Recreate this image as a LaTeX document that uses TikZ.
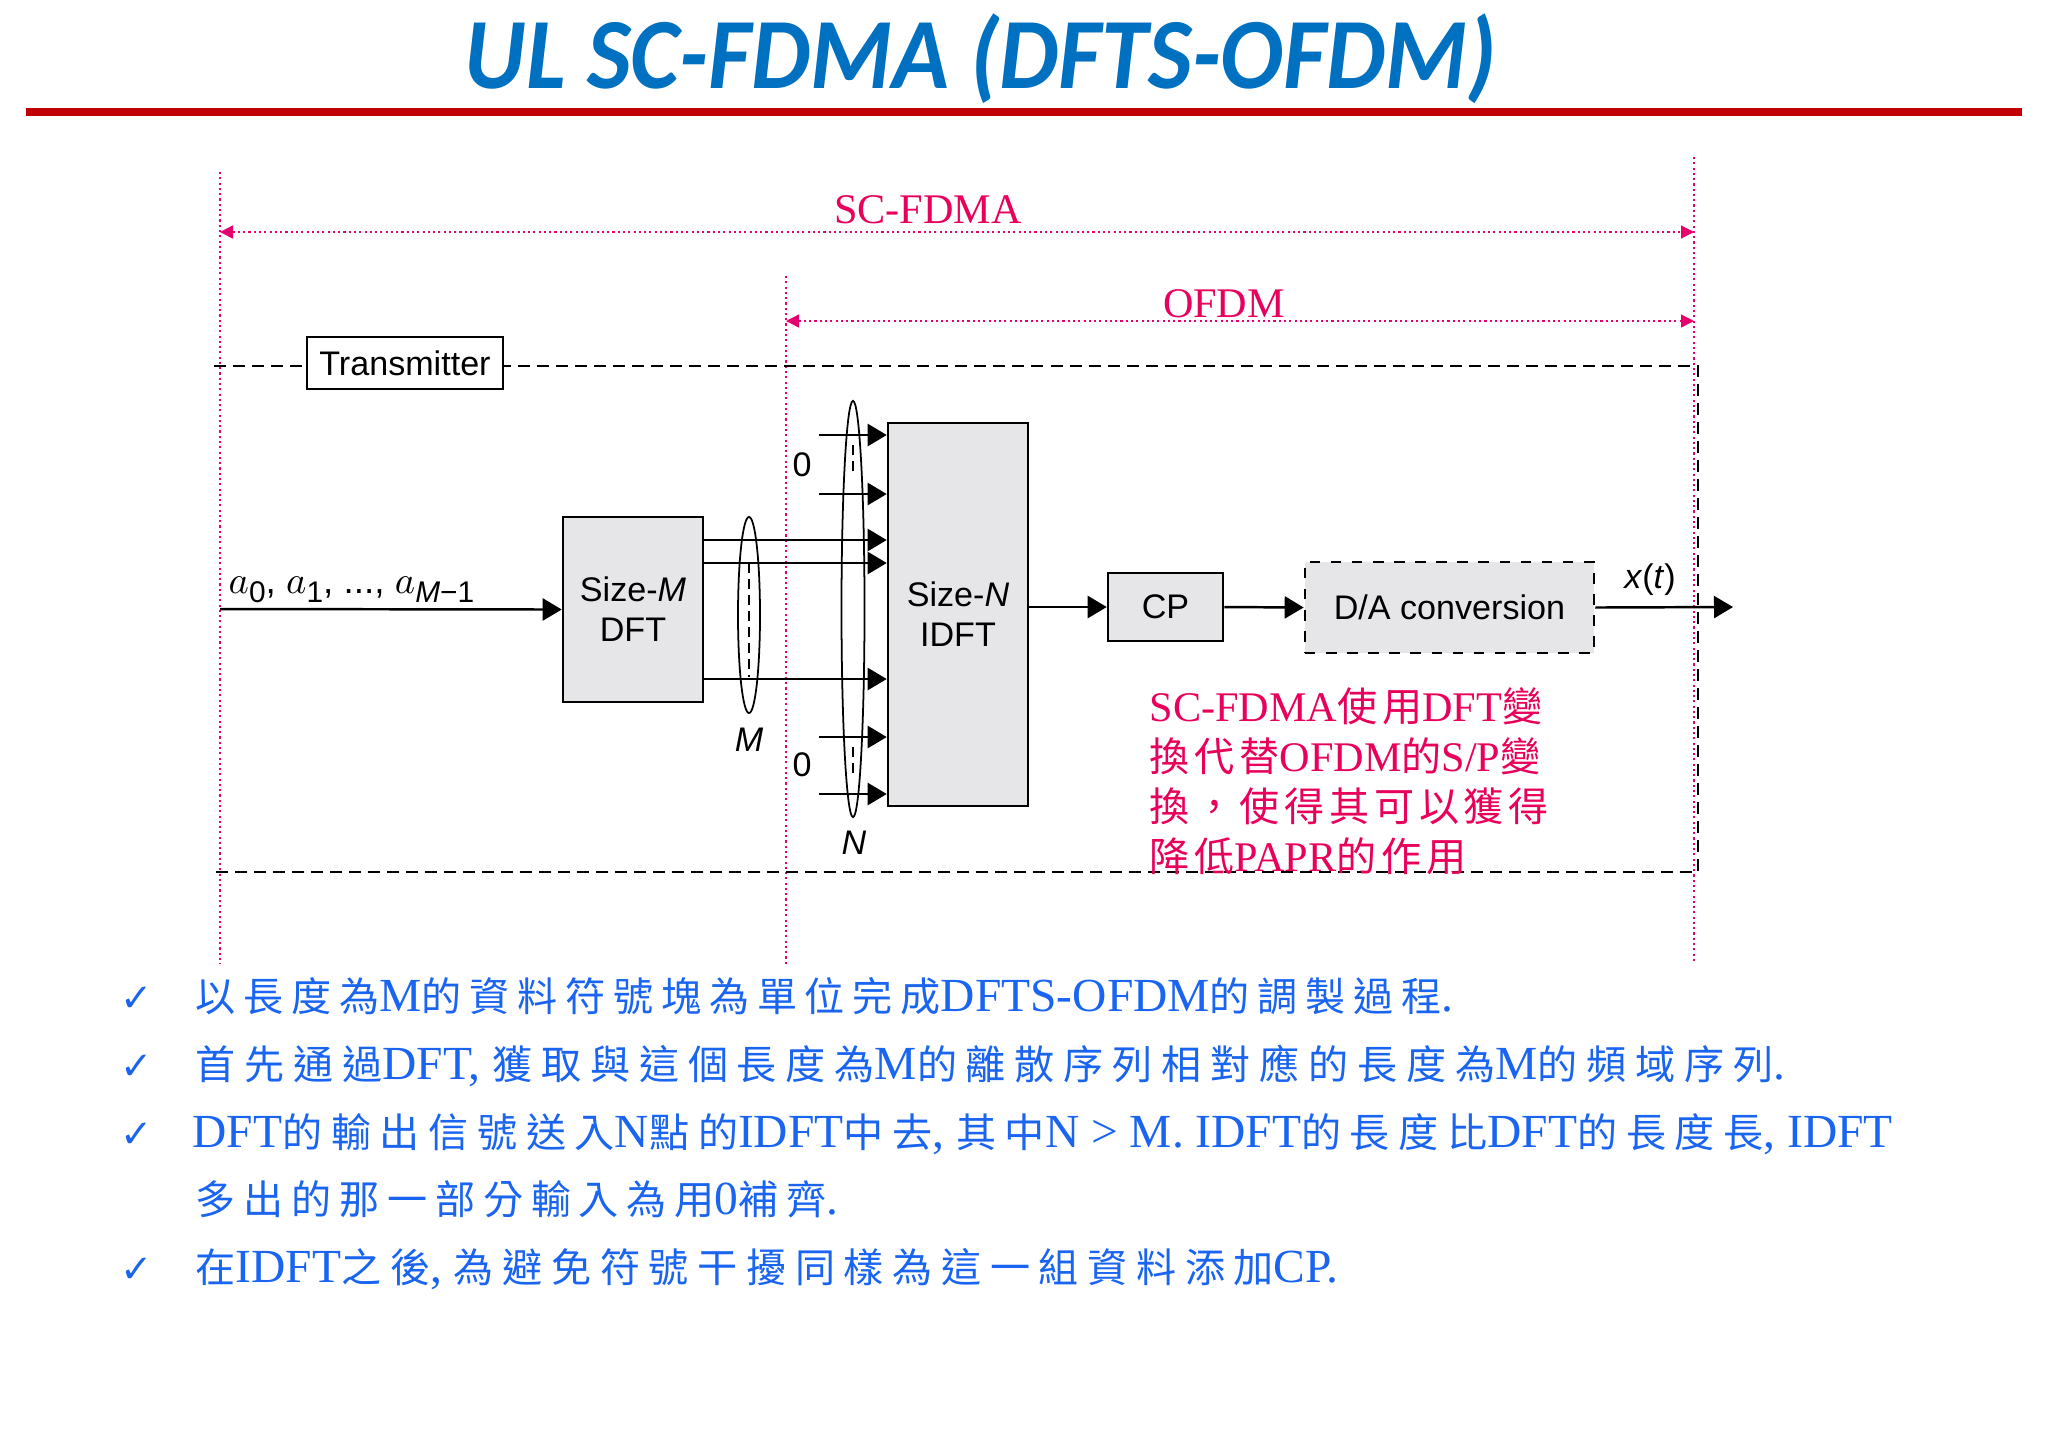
\documentclass[tikz,border=0pt]{standalone}
\usepackage{fontspec}
\setmainfont{Liberation Serif}
\setsansfont{Liberation Sans}
\newfontfamily\titlefont{Carlito}
\newfontfamily\cjkb{Noto Sans CJK TC}[LetterSpace=19.5]
\newfontfamily\cjkbm{Noto Sans CJK TC}[LetterSpace=21.6]
\newfontfamily\cjkbw{Noto Sans CJK TC}[LetterSpace=22]
\newfontfamily\cjkr{Noto Sans CJK TC}[LetterSpace=12]
\newfontfamily\symfont{DejaVu Sans}
\usetikzlibrary{arrows.meta,positioning,shapes.geometric}
\definecolor{titleblue}{RGB}{0,112,192}
\definecolor{rulered}{RGB}{192,0,0}
\definecolor{guidepink}{RGB}{228,0,110}
\definecolor{notered}{RGB}{232,0,90}
\definecolor{txtblue}{RGB}{25,100,240}
\definecolor{boxgray}{RGB}{230,230,233}
\let\cjkcur\cjkb
\newcommand{\bcj}[1]{{\fontsize{11.4}{14}\cjkcur #1}}
\newcommand{\rcj}[1]{{\fontsize{11.4}{14}\cjkr #1}}
\newcommand{\lowsub}[1]{\raisebox{-2.8pt}{\sffamily\fontsize{8.5}{9}\selectfont #1}}

\begin{document}
\begin{tikzpicture}[x=0.01cm,y=-0.01cm,
blk/.style={line width=0.7pt,-{Triangle[length=0.19cm,width=0.22cm]}},
guide/.style={guidepink,line width=0.4pt,dash pattern=on 0.6pt off 0.9pt},
dimarrow/.style={guide,{Triangle[length=0.13cm,width=0.13cm]}-{Triangle[length=0.13cm,width=0.13cm]}},
txframe/.style={line width=0.6pt,dash pattern=on 0.12cm off 0.07cm},
innerdash/.style={line width=0.5pt,dash pattern=on 0.1cm off 0.06cm},
block/.style={draw,line width=0.7pt,fill=boxgray,align=center,inner sep=0,
  font=\sffamily\fontsize{9.7}{11.4}\selectfont},
bundle/.style={draw,ellipse,inner sep=0,line width=0.5pt},
lbl/.style={inner sep=0,font=\sffamily\fontsize{9.7}{11.4}\selectfont},
bullet/.style={anchor=base west,inner sep=0,text=txtblue,font=\fontsize{13.5}{15}\selectfont},
check/.style={anchor=base west,inner sep=0,text=txtblue,font=\symfont\fontsize{11}{12}\selectfont}]
\fill[white] (0,0) rectangle (2048,1447);
\useasboundingbox (0,0) rectangle (2048,1447);

\node[anchor=base,inner sep=0,text=titleblue,font=\titlefont\bfseries\itshape\fontsize{28.7}{30}\selectfont] (title) at (981,88) {\scalebox{0.93}[1]{UL SC-FDMA (DFTS-OFDM)}};
\fill[rulered] (26,108) rectangle (2022,116);

\coordinate (g1t) at (220,172);
\coordinate (g1b) at (220,964);
\coordinate (g2t) at (786,276);
\coordinate (g2b) at (786,964);
\coordinate (g3t) at (1694,157);
\coordinate (g3b) at (1694,964);
\draw[guide] (g1t)--(g1b);
\draw[guide] (g2t)--(g2b);
\draw[guide] (g3t)--(g3b);
\coordinate (s1) at (220,232);
\coordinate (s2) at (1694,232);
\coordinate (o1) at (786,321);
\coordinate (o2) at (1694,321);
\draw[dimarrow] (s1)--(s2);
\draw[dimarrow] (o1)--(o2);
\node[anchor=base,inner sep=0,text=notered,font=\fontsize{12}{14}\selectfont] (scl) at (928,223) {SC-FDMA};
\node[anchor=base,inner sep=0,text=notered,font=\fontsize{12}{14}\selectfont] (ofl) at (1224,317) {OFDM};

\coordinate (f1) at (214,366);
\coordinate (f2) at (1698,366);
\coordinate (f3) at (1698,872);
\coordinate (f4) at (214,872);
\draw[txframe] (f1)--(f2)--(f3)--(f4);
\node[lbl,draw,fill=white,line width=0.7pt,minimum width=1.96cm,minimum height=0.52cm] (tx) at (405,363) {Transmitter};

\node[block,minimum width=1.4cm,minimum height=1.85cm] (dft) at (633,609.5) {Size-\textit{M}\\DFT};
\node[block,minimum width=1.4cm,minimum height=3.83cm] (idft) at (958,614.5) {Size-\textit{N}\\IDFT};
\node[block,minimum width=1.15cm,minimum height=0.68cm] (cp) at (1165.5,607) {CP};
\node[block,dashed,minimum width=2.89cm,minimum height=0.91cm] (da) at (1449.5,607.5) {D/A conversion};

\coordinate (in) at (220,609);
\coordinate (out) at (1733,607);
\draw[blk] (in)--(dft.west);
\draw[blk] (idft.east |- cp.west)--(cp.west);
\draw[blk] (cp.east)--(da.west);
\draw[blk] (da.east)--(out);
\foreach \yy in {540,563,679}{
\coordinate (d) at (dft.east |- 0,\yy);
\draw[blk] (d)--(idft.west |- d);
}
\foreach \yy in {435,494,737,794}{
\coordinate (z) at (819,\yy);
\draw[blk] (z)--(idft.west |- z);
}

\node[bundle,minimum width=0.22cm,minimum height=1.96cm] (mb) at (749,615) {};
\node[bundle,minimum width=0.23cm,minimum height=4.16cm] (nb) at (853,609) {};
\draw[innerdash] (749,563)--(749,677);
\draw[innerdash] (853,445)--(853,477);
\draw[innerdash] (853,747)--(853,778);

\node[lbl] (z1) at (802,465) {0};
\node[lbl] (z2) at (802,765) {0};
\node[lbl] (ml) at (749,740) {\textit{M}};
\node[lbl] (nl) at (854,843) {\textit{N}};
\node[lbl] (xl) at (1650,580) {\textit{x}(\textit{t})};
\node[anchor=base west,inner sep=0,font=\fontsize{10.5}{12}\selectfont] (al) at (228,593) {$a$\lowsub{0}\textsf{, }$a$\lowsub{1}\textsf{, ..., }$a$\lowsub{\textit{M}−1}};

\node[anchor=base west,inner sep=0,align=left,text=notered,font=\fontsize{12}{14.2}\selectfont] (note) at (1149,871) {SC-FDMA\rcj{使用}DFT\rcj{變}\\\rcj{換代替}OFDM\rcj{的}S/P\rcj{變}\\\rcj{換，使得其可以獲得}\\\rcj{降低}PAPR\rcj{的作用}};

\node[check] (c1) at (120,1011) {✓};
\node[check] (c2) at (120,1079) {✓};
\node[check] (c3) at (120,1147) {✓};
\node[check] (c5) at (120,1282) {✓};
\node[bullet] (b1) at (195,1011) {\bcj{以長度為}M\bcj{的資料符號塊為單位完成}DFTS-OFDM\bcj{的調製過程}.};
\node[bullet] (b2) at (195,1079) {\let\cjkcur\cjkbw\bcj{首先通過}DFT, \bcj{獲取與這個長度為}M\bcj{的離散序列相對應的長度為}M\bcj{的頻域序列}.};
\node[bullet] (b3) at (192,1147) {\let\cjkcur\cjkbm DFT\bcj{的輸出信號送入}N\bcj{點的}IDFT\bcj{中去}, \bcj{其中}N > M. IDFT\bcj{的長度比}DFT\bcj{的長度長}, IDFT};
\node[bullet] (b4) at (195,1214) {\bcj{多出的那一部分輸入為用}0\bcj{補齊}.};
\node[bullet] (b5) at (195,1282) {\let\cjkcur\cjkbm\bcj{在}IDFT\bcj{之後}, \bcj{為避免符號干擾同樣為這一組資料添加}CP.};
\end{tikzpicture}
\end{document}
